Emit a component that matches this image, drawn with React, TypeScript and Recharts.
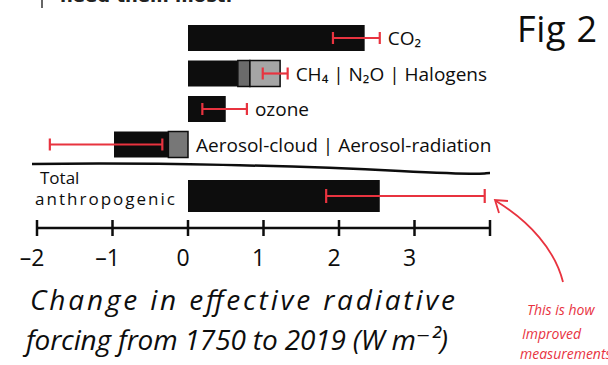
import React from 'react';
import { BarChart, Bar, XAxis, YAxis, ErrorBar, LabelList } from 'recharts';

// forcing components, stacked from zero in this order (W m-2)
const categories = ['CO₂', 'CH₄ | N₂O | Halogens', 'ozone', 'Aerosol-cloud | Aerosol-radiation'];
const innerGray = [0, 0, 0, -0.26]; // aerosol-radiation
const mainBlack = [2.34, 0.66, 0.5, -0.72]; // CO2, CH4, ozone, aerosol-cloud
const n2o = [0, 0.16, 0, 0];
const halogens = [0, 0.4, 0, 0];
const errLow = [1.92, 0.99, 0.19, -1.83];
const errHigh = [2.54, 1.32, 0.78, -0.34];

const totalName = 'Total anthropogenic';
const totalValue = 2.54;
const totalErrLow = 1.83;
const totalErrHigh = 3.93;

const xTicks = [-2, -1, 0, 1, 2, 3, 4];
const xTickLabels = ['–2', '–1', '0', '1', '2', '3', ''];

const PLOT_LEFT = 37;
const PLOT_RIGHT = 490;
const X_DOMAIN: [number, number] = [-2, 4];
const toPx = (v: number) =>
  PLOT_LEFT + ((v - X_DOMAIN[0]) / (X_DOMAIN[1] - X_DOMAIN[0])) * (PLOT_RIGHT - PLOT_LEFT);

const INK = '#0d0d0d';
const RED = '#e8333f';
const FONT = '"DejaVu Sans", "Open Sans", sans-serif';
const HAND = '"Open Sans", "DejaVu Sans", sans-serif';

// the error bar hangs off the black segment, so its offsets are taken from where that segment ends
const rows = categories.map((name, i) => {
  const blackEnd = innerGray[i] + mainBlack[i];
  return {
    name,
    innerGray: innerGray[i],
    mainBlack: mainBlack[i],
    n2o: n2o[i],
    halogens: halogens[i],
    err: [blackEnd - errLow[i], errHigh[i] - blackEnd],
    labelAt: Math.max(errHigh[i], 0),
  };
});

const totalRows = [
  { name: totalName, value: totalValue, err: [totalValue - totalErrLow, totalErrHigh - totalValue] },
];

const renderCategoryLabel = (props: any) => {
  const { y, height, value, index } = props;
  return (
    <text
      x={toPx(value) + 8}
      y={y + height / 2}
      dominantBaseline="central"
      fontFamily={HAND}
      fontSize={19}
      fill={INK}
    >
      {categories[index]}
    </text>
  );
};

const renderTotalLabel = (props: any) => {
  const { y, value } = props;
  const [first, second] = String(value).split(' ');
  return (
    <text fontFamily={HAND} fontSize={17} fill={INK}>
      <tspan x={PLOT_LEFT + 3} y={y + 4}>{first}</tspan>
      <tspan x={PLOT_LEFT - 2} y={y + 25} textLength={140}>{second}</tspan>
    </text>
  );
};

const AxisTick = (props: any) => {
  const { x, y, payload } = props;
  const i = xTicks.indexOf(payload.value);
  return (
    <g>
      <line x1={x} y1={y - 8} x2={x} y2={y + 8} stroke={INK} strokeWidth={2.5} />
      <text x={x - 5} y={y + 38} textAnchor="middle" fontFamily={HAND} fontSize={23} fill={INK}>
        {xTickLabels[i]}
      </text>
    </g>
  );
};

export default function App() {
  return (
    <div style={{ position: 'absolute', left: 0, top: 0, width: 608, height: 365, background: '#fff', overflow: 'hidden' }}>
      <div style={{ position: 'absolute', left: 0, top: 20 }}>
        <BarChart
          width={608}
          height={142}
          data={rows}
          layout="vertical"
          margin={{ top: 0, right: 608 - PLOT_RIGHT, bottom: 0, left: PLOT_LEFT }}
          barSize={26}
        >
          <XAxis type="number" domain={X_DOMAIN} hide />
          <YAxis type="category" dataKey="name" hide />
          <Bar dataKey="innerGray" stackId="a" fill="#777" stroke={INK} strokeWidth={1.5} isAnimationActive={false} />
          <Bar dataKey="mainBlack" stackId="a" fill={INK} isAnimationActive={false}>
            <ErrorBar dataKey="err" direction="x" width={6} stroke={RED} strokeWidth={2.2} />
            <LabelList dataKey="labelAt" content={renderCategoryLabel} />
          </Bar>
          <Bar dataKey="n2o" stackId="a" fill="#6b6b6b" stroke={INK} strokeWidth={1.5} isAnimationActive={false} />
          <Bar dataKey="halogens" stackId="a" fill="#a5a5a5" stroke={INK} strokeWidth={1.5} isAnimationActive={false} />
        </BarChart>
      </div>

      <div style={{ position: 'absolute', left: 0, top: 164 }}>
        <BarChart
          width={608}
          height={120}
          data={totalRows}
          layout="vertical"
          margin={{ top: 0, right: 608 - PLOT_RIGHT, bottom: 0, left: PLOT_LEFT }}
          barSize={32}
        >
          <XAxis
            type="number"
            domain={X_DOMAIN}
            ticks={xTicks}
            interval={0}
            tickSize={0}
            tickMargin={0}
            tickLine={false}
            axisLine={{ stroke: INK, strokeWidth: 2.5 }}
            tick={<AxisTick />}
            height={56}
          />
          <YAxis type="category" dataKey="name" hide />
          <Bar dataKey="value" fill={INK} isAnimationActive={false}>
            <ErrorBar dataKey="err" direction="x" width={7} stroke={RED} strokeWidth={2.2} />
            <LabelList dataKey="name" content={renderTotalLabel} />
          </Bar>
        </BarChart>
      </div>

      <svg width={608} height={365} style={{ position: 'absolute', left: 0, top: 0, pointerEvents: 'none' }}>
        <line x1={42} y1={0} x2={42} y2={8} stroke="#333" strokeWidth={1.5} />
        <text x={60} y={2} fontFamily={FONT} fontWeight="bold" fontSize={18} fill="#222">need them most.</text>
        <path d="M 32 164 C 150 162, 300 166, 400 171 S 480 173, 490 173" stroke={INK} strokeWidth={2.5} fill="none" />
        <text x={517} y={42} fontFamily={HAND} fontSize={36} fill={INK} textLength={80}>Fig 2</text>
        <text x={30} y={310} fontFamily={HAND} fontStyle="italic" fontSize={28} fill={INK} textLength={425}>
          Change in effective radiative
        </text>
        <text x={26} y={350} fontFamily={HAND} fontStyle="italic" fontSize={28} fill={INK} textLength={422}>
          forcing from 1750 to 2019 (W m⁻²)
        </text>
        <path d="M 563 282 C 555 250, 530 222, 496 201" stroke={RED} strokeWidth={1.8} fill="none" />
        <path d="M 508 201 L 495 200 L 499 213" stroke={RED} strokeWidth={1.8} fill="none" />
        <g fontFamily={HAND} fontStyle="italic" fontSize={14} fill={RED}>
          <text x={527} y={315}>This is how</text>
          <text x={522} y={339}>Improved</text>
          <text x={520} y={359}>measurements</text>
        </g>
      </svg>
    </div>
  );
}
